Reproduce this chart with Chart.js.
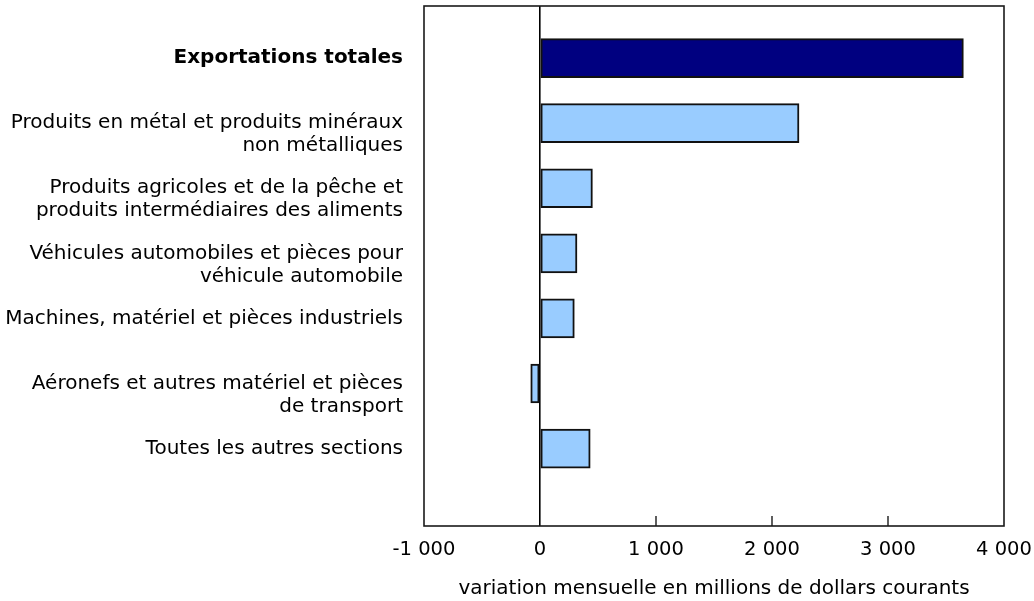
<!DOCTYPE html>
<html>
<head>
<meta charset="utf-8">
<script src="https://cdn.jsdelivr.net/npm/chart.js@4"></script>
<style>
  html, body { margin: 0; padding: 0; background: #fff; }
  #wrap { width: 1034px; height: 601px; }
</style>
</head>
<body>
<div id="wrap"><canvas id="exportsChart"></canvas></div>
<script>
// catégories (de haut en bas)
const categories = [
    'Exportations totales',
    ['Produits en métal et produits minéraux', 'non métalliques'],
    ['Produits agricoles et de la pêche et', 'produits intermédiaires des aliments'],
    ['Véhicules automobiles et pièces pour', 'véhicule automobile'],
    'Machines, matériel et pièces industriels',
    ['Aéronefs et autres matériel et pièces', 'de transport'],
    'Toutes les autres sections'
];

// variation mensuelle, millions de dollars courants
const values = [3650, 2233, 452, 319, 296, -80, 433];

const xTicks = [-1000, 0, 1000, 2000, 3000, 4000];
const xTitle = 'variation mensuelle en millions de dollars courants';

const fontFamily = '"DejaVu Sans", Verdana, sans-serif';

function formatNumber(v) {
    const s = Math.abs(v).toString().replace(/\B(?=(\d{3})+(?!\d))/g, ' ');
    return (v < 0 ? '-' : '') + s;
}

// cadre autour de la zone du graphique + petites graduations vers l'intérieur
const frame = {
    id: 'frame',
    afterDraw(chart) {
        const { ctx, chartArea: a, scales } = chart;
        ctx.save();
        ctx.strokeStyle = '#1a1a1a';
        ctx.lineWidth = 1.6;
        ctx.strokeRect(a.left, a.top, a.right - a.left, a.bottom - a.top);
        ctx.lineWidth = 1.4;
        xTicks.forEach(v => {
            if (v === 0 || v === xTicks[0] || v === xTicks[xTicks.length - 1]) return;
            const px = scales.x.getPixelForValue(v);
            ctx.beginPath();
            ctx.moveTo(px, a.bottom);
            ctx.lineTo(px, a.bottom - 10);
            ctx.stroke();
        });
        ctx.restore();
    }
};

new Chart(document.getElementById('exportsChart'), {
    type: 'bar',
    data: {
        datasets: [{
            data: values.map((v, i) => ({ x: v, y: i })),
            backgroundColor: values.map((v, i) => i === 0 ? '#000080' : '#99ccff'),
            borderColor: '#111',
            borderWidth: 2,
            borderSkipped: false,
            barThickness: 39
        }]
    },
    options: {
        indexAxis: 'y',
        responsive: true,
        maintainAspectRatio: false,
        animation: false,
        layout: { padding: { top: 6, right: 30, bottom: 0, left: 0 } },
        plugins: {
            legend: { display: false },
            tooltip: { enabled: false }
        },
        scales: {
            x: {
                type: 'linear',
                min: -1000,
                max: 4000,
                afterBuildTicks: scale => { scale.ticks = xTicks.map(v => ({ value: v })); },
                afterFit: scale => { scale.paddingLeft = 0; scale.paddingRight = 0; },
                border: { display: false },
                grid: {
                    drawTicks: false,
                    color: ctx => ctx.tick && ctx.tick.value === 0 ? '#000' : 'transparent',
                    lineWidth: 1.6
                },
                ticks: {
                    padding: 12,
                    color: '#000',
                    maxRotation: 0,
                    font: { family: fontFamily, size: 19.5 },
                    callback: v => formatNumber(v)
                },
                title: {
                    display: true,
                    text: xTitle,
                    color: '#000',
                    font: { family: fontFamily, size: 20 },
                    padding: { top: 3.6, bottom: 0 }
                }
            },
            y: {
                type: 'linear',
                reverse: true,
                offset: false,
                min: -0.8,
                max: 7.19,
                afterBuildTicks: scale => { scale.ticks = categories.map((c, i) => ({ value: i })); },
                afterFit: scale => {
                    scale.width = 424;
                    scale.paddingTop = 0;
                    scale.paddingBottom = 0;
                },
                border: { display: false },
                grid: { display: false, drawTicks: false, offset: false },
                ticks: {
                    padding: 21,
                    color: '#000',
                    autoSkip: false,
                    font: ctx => ({
                        family: fontFamily,
                        size: 20,
                        weight: ctx.tick && ctx.tick.value === 0 ? 'bold' : 'normal',
                        lineHeight: 1.15
                    }),
                    // première ligne alignée sur la barre
                    callback: v => Array.isArray(categories[v]) ? [''].concat(categories[v]) : categories[v]
                }
            }
        }
    },
    plugins: [frame]
});
</script>
</body>
</html>
